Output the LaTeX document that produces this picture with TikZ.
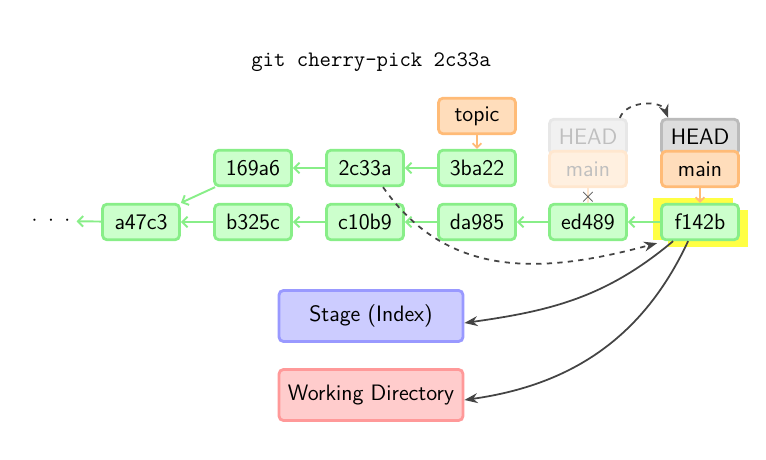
\documentclass[tikz,border=0pt]{standalone}
\usepackage{xcolor}
\usetikzlibrary{arrows.meta,positioning}

\definecolor{commitfill}{HTML}{CCFFCC}
\definecolor{commitdraw}{HTML}{88EE88}
\definecolor{reffill}{HTML}{FFDDBB}
\definecolor{refdraw}{HTML}{FFBB77}
\definecolor{headfill}{HTML}{DDDDDD}
\definecolor{headdraw}{HTML}{BBBBBB}
\definecolor{stagefill}{HTML}{CCCCFF}
\definecolor{stagedraw}{HTML}{9999FF}
\definecolor{wdfill}{HTML}{FFCCCC}
\definecolor{wddraw}{HTML}{FF9999}
\definecolor{linkdark}{HTML}{444444}
\definecolor{marker}{HTML}{FFFF44}

\begin{document}
\begin{tikzpicture}[
  x=0.02cm, y=0.02cm,
  >=Stealth,
  font=\sffamily\fontsize{12.7}{15}\selectfont,
  box/.style={line width=1.6pt, rounded corners=2.5pt, minimum width=1.54cm, minimum height=0.71cm, inner sep=0pt},
  commit/.style={box, draw=commitdraw, fill=commitfill},
  branch/.style={box, draw=refdraw, fill=reffill},
  headref/.style={box, draw=headdraw, fill=headfill},
  area/.style={line width=1.6pt, rounded corners=2.5pt, minimum width=3.68cm, minimum height=1.02cm},
  parent/.style={commitdraw, line width=1.1pt, -{Straight Barb[length=3pt,width=6pt]}},
  refline/.style={refdraw, line width=1pt, -{Straight Barb[length=2.5pt,width=5pt]}},
  move/.style={linkdark, line width=1pt, dashed, ->},
]
\useasboundingbox (0,0) rectangle (766,459);

% Command
\node[font=\ttfamily\fontsize{12.6}{15}\selectfont] (cmd) at (371,397) {git cherry-pick 2c33a};

% Highlight of the new commit
\fill[marker] (653,261) rectangle (733,219);
\fill[marker] (668,249) rectangle (748,212);

% Commits
\node (dots) at (51,238) {$\cdot\;\cdot\;\cdot$};
\node[commit] (ca47c3) at (141,237) {a47c3};
\node[commit] (cb325c) at (253,237) {b325c};
\node[commit] (cc10b9) at (365,237) {c10b9};
\node[commit] (cda985) at (477,237) {da985};
\node[commit] (ced489) at (588,237) {ed489};
\node[commit] (cf142b) at (700,237) {f142b};
\node[commit] (c169a6) at (253,291) {169a6};
\node[commit] (c2c33a) at (365,291) {2c33a};
\node[commit] (c3ba22) at (477,291) {3ba22};

% Branches and HEAD
\node[branch] (topic) at (477,343) {topic};
\node[headref, draw=headdraw!35, fill=headfill!40, text=black!25] (oldhead) at (588,322) {HEAD};
\node[branch, draw=refdraw!35, fill=reffill!45, text=black!25] (oldmain) at (588,290) {main};
\node[headref] (head) at (700,322) {HEAD};
\node[branch] (main) at (700,290) {main};

% Parent links
\draw[parent] (ca47c3) -- (dots);
\draw[parent] (cb325c) -- (ca47c3);
\draw[parent] (cc10b9) -- (cb325c);
\draw[parent] (cda985) -- (cc10b9);
\draw[parent] (ced489) -- (cda985);
\draw[parent] (cf142b) -- (ced489);
\draw[parent] (c169a6.south west) ++(2,0) -- (ca47c3.north east);
\draw[parent] (c2c33a) -- (c169a6);
\draw[parent] (c3ba22) -- (c2c33a);

% Branch pointers
\draw[refline] (topic) -- (c3ba22);
\draw[refline] (main) -- (cf142b);
\draw[refdraw!35, line width=1pt] (oldmain) -- (ced489);
\node[text=black!70, font=\large] (cross) at (588,262) {$\times$};

% Moves
\draw[move] ([xshift=-0.16cm]oldhead.north east) to[out=70, in=110] ([xshift=0.16cm]head.north west);
\draw[move] ([xshift=0.36cm]c2c33a.south) to[out=-55, in=195, looseness=1.05] ([shift={(-3,-2)}]cf142b.south west);

% Stage and working directory
\node[area, draw=stagedraw, fill=stagefill] (stage) at (371,143) {Stage (Index)};
\node[area, draw=wddraw, fill=wdfill] (workdir) at (371,64) {Working Directory};
\draw[linkdark, line width=1pt, ->] ([xshift=0.26cm]cf142b.south west) to[out=-140, in=8] ([yshift=-0.14cm]stage.east);
\draw[linkdark, line width=1pt, ->] ([xshift=0.56cm]cf142b.south west) to[out=-115, in=8] ([yshift=-0.1cm]workdir.east);
\end{tikzpicture}
\end{document}
